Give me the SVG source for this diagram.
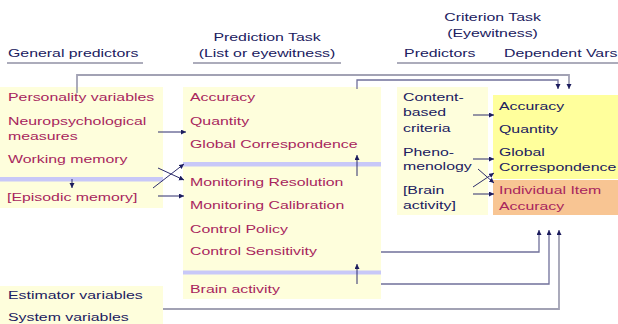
<svg xmlns="http://www.w3.org/2000/svg" width="618" height="324" viewBox="0 0 618 324">
  <defs>
    <marker id="tip" markerUnits="userSpaceOnUse" markerWidth="6" markerHeight="6" refX="5" refY="2.5" orient="auto">
      <path d="M0,0 L5,2.5 L0,5 z" fill="#1C1C5E"/>
    </marker>
  </defs>
  <style>
    .box { fill: #FEFEDC; }
    .band { fill: #C8C8F8; }
    .t { font-family: "Liberation Sans", Arial, sans-serif; font-size: 11.5px; }
    .nv { fill: #202060; }
    .pk { fill: #A8265E; }
    .rule { stroke: #9090A4; stroke-width: 1.4; }
    .wire { fill: none; stroke: #70709A; stroke-width: 1.3; marker-end: url(#tip); }
    .wire-lt { fill: none; stroke: #A2A2B4; stroke-width: 1.8; marker-end: url(#tip); }
    .arr { fill: none; stroke: #2C2C6C; stroke-width: 1; marker-end: url(#tip); }
  </style>

  <rect width="618" height="324" fill="#FFFFFF"/>

  <!-- column headings -->
  <g id="headings">
    <line class="rule" x1="7" y1="63" x2="143" y2="63"/>
    <line class="rule" x1="193" y1="63" x2="341" y2="63"/>
    <line class="rule" x1="397" y1="63" x2="618" y2="63"/>
    <g transform="scale(1.38 1)" class="t nv">
      <text x="5.8" y="57">General predictors</text>
      <text x="193.5" y="41" text-anchor="middle">Prediction Task</text>
      <text x="193.5" y="57" text-anchor="middle">(List or eyewitness)</text>
      <text x="356.9" y="21.5" text-anchor="middle">Criterion Task</text>
      <text x="356.9" y="37" text-anchor="middle">(Eyewitness)</text>
      <text x="292.8" y="57">Predictors</text>
      <text x="365.2" y="57">Dependent Vars</text>
    </g>
  </g>

  <!-- general predictors -->
  <g id="general-predictors">
    <rect class="box" x="0" y="87" width="163" height="121"/>
    <rect class="band" x="0" y="177" width="163" height="4.5"/>
    <g transform="scale(1.38 1)" class="t pk">
      <text x="5.8" y="101">Personality variables</text>
      <text x="5.8" y="125">Neuropsychological</text>
      <text x="5.8" y="140">measures</text>
      <text x="5.8" y="163">Working memory</text>
      <text x="5.1" y="201">[Episodic memory]</text>
    </g>
  </g>

  <!-- estimator / system variables -->
  <g id="estimator-system">
    <rect class="box" x="0" y="286" width="163" height="38"/>
    <g transform="scale(1.38 1)" class="t nv">
      <text x="5.8" y="299.5">Estimator variables</text>
      <text x="5.8" y="321.5">System variables</text>
    </g>
  </g>

  <!-- prediction task -->
  <g id="prediction-task">
    <rect class="box" x="183" y="87" width="198" height="212"/>
    <rect class="band" x="183" y="162" width="198" height="4.5"/>
    <rect class="band" x="183" y="270.5" width="198" height="4"/>
    <g transform="scale(1.38 1)" class="t pk">
      <text x="137.7" y="101">Accuracy</text>
      <text x="137.7" y="125">Quantity</text>
      <text x="137.7" y="148">Global Correspondence</text>
      <text x="137.7" y="186">Monitoring Resolution</text>
      <text x="137.7" y="209">Monitoring Calibration</text>
      <text x="137.7" y="233">Control Policy</text>
      <text x="137.7" y="255.5">Control Sensitivity</text>
      <text x="137.7" y="293.5">Brain activity</text>
    </g>
  </g>

  <!-- criterion task predictors -->
  <g id="criterion-predictors">
    <rect class="box" x="397" y="87" width="91" height="128"/>
    <g transform="scale(1.38 1)" class="t nv">
      <text x="292" y="101">Content-</text>
      <text x="292" y="116.5">based</text>
      <text x="292" y="132">criteria</text>
      <text x="292" y="156">Pheno-</text>
      <text x="292" y="170.5">menology</text>
      <text x="292" y="194">[Brain</text>
      <text x="292" y="209">activity]</text>
    </g>
  </g>

  <!-- criterion task dependent variables -->
  <g id="dependent-vars">
    <rect x="493" y="95" width="125" height="84" fill="#FFFF9C"/>
    <rect x="493" y="180" width="125" height="35" fill="#F8C593"/>
    <g transform="scale(1.38 1)" class="t">
      <text class="nv" x="361.6" y="110">Accuracy</text>
      <text class="nv" x="361.6" y="133">Quantity</text>
      <text class="nv" x="361.6" y="156">Global</text>
      <text class="nv" x="361.6" y="171">Correspondence</text>
      <text class="pk" x="361.6" y="194">Individual Item</text>
      <text class="pk" x="361.6" y="210">Accuracy</text>
    </g>
  </g>

  <!-- connectors -->
  <g id="connectors">
    <polyline class="wire-lt" points="77,93 77,75 569,75 569,89"/>
    <polyline class="wire" points="357,89 357,80 558,80 558,89"/>
    <polyline class="wire" points="381,252 539,252 539,230"/>
    <polyline class="wire" points="381,284 549,284 549,230"/>
    <polyline class="wire-lt" points="163,309 559,309 559,230"/>

    <line class="arr" x1="357" y1="176" x2="357" y2="155"/>
    <line class="arr" x1="357" y1="284" x2="357" y2="264"/>

    <line class="arr" x1="72" y1="179" x2="72" y2="188"/>
    <line class="arr" x1="158" y1="132" x2="186" y2="132"/>
    <line class="arr" x1="158" y1="168" x2="184" y2="180"/>
    <line class="arr" x1="153" y1="188" x2="184" y2="164"/>
    <line class="arr" x1="158" y1="196" x2="184" y2="196"/>

    <line class="arr" x1="473" y1="115" x2="494" y2="115"/>
    <line class="arr" x1="473" y1="159" x2="494" y2="159"/>
    <line class="arr" x1="478" y1="169" x2="494" y2="183"/>
    <line class="arr" x1="473" y1="187" x2="494" y2="173"/>
    <line class="arr" x1="473" y1="194" x2="494" y2="194"/>
  </g>
</svg>
